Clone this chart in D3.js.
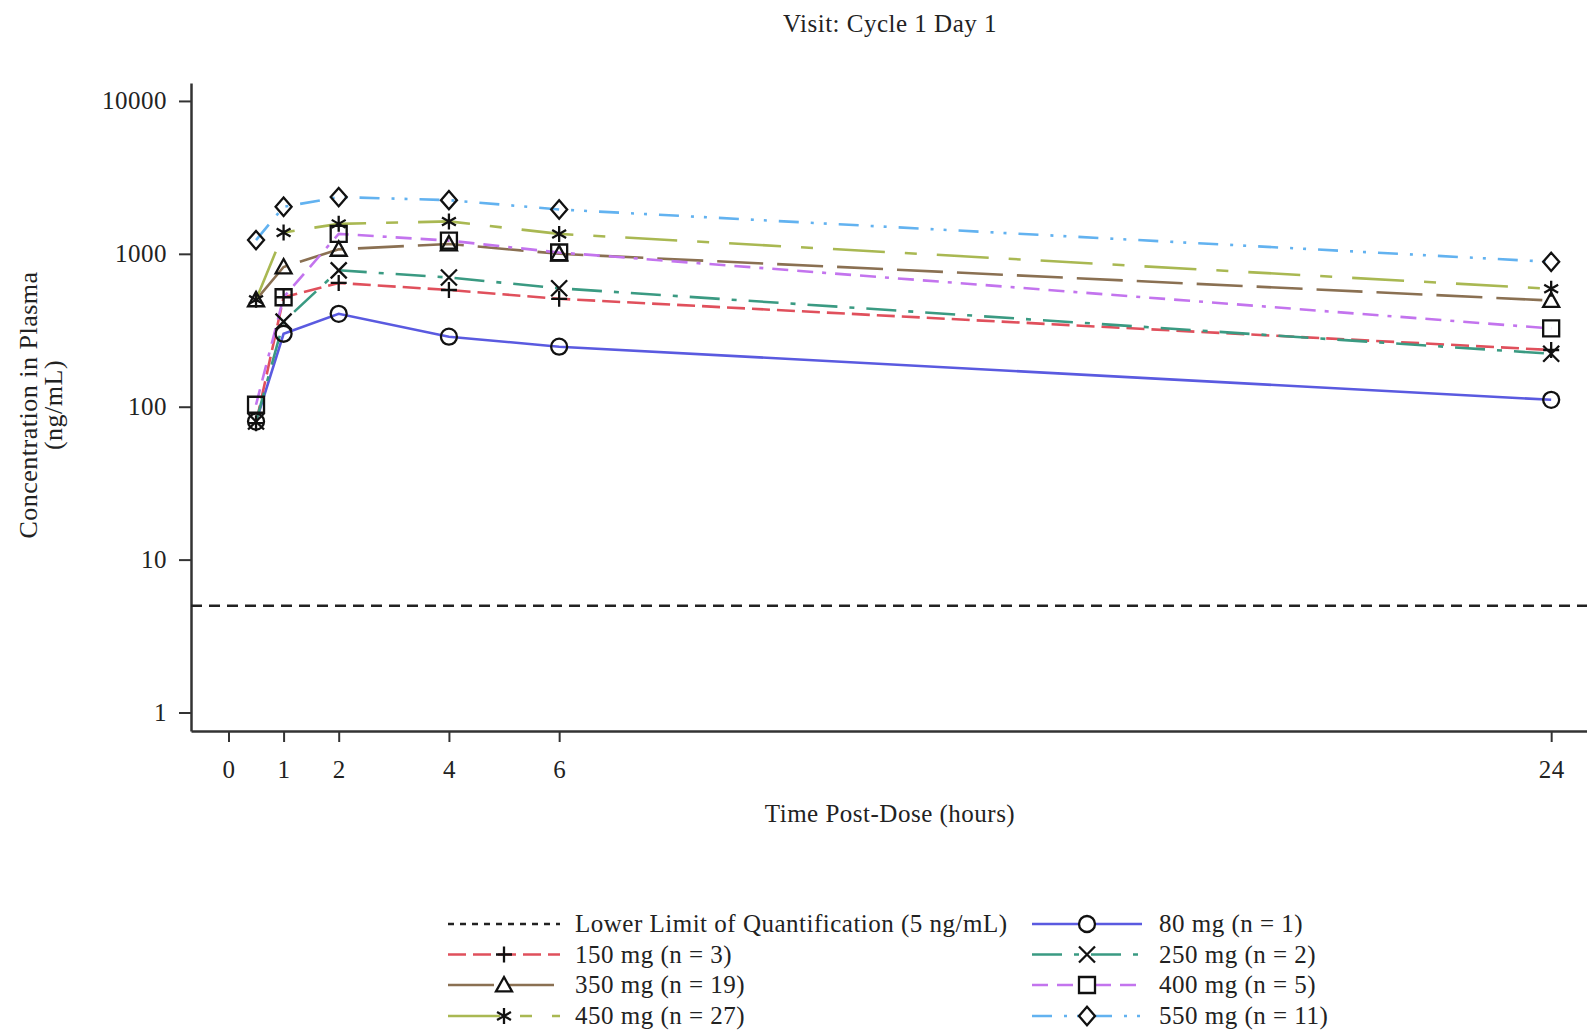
<!DOCTYPE html>
<html>
<head>
<meta charset="utf-8">
<script src="https://cdn.jsdelivr.net/npm/d3@7"></script>
<style>
  body { margin: 0; background: #fff; }
  text { font-family: "Liberation Serif", "Times New Roman", serif; fill: #222; letter-spacing: 0.5px; }
</style>
</head>
<body>
<script>
const width = 1587;
const height = 1032;

// values (ng/mL)
const times = [0.5, 1, 2, 4, 6, 24];
const xTicks = [0, 1, 2, 4, 6, 24];
const yTicks = [1, 10, 100, 1000, 10000];
const lloq = 5;
const lloqLabel = "Lower Limit of Quantification (5 ng/mL)";

const doseLabels = ["80 mg (n = 1)", "150 mg (n = 3)", "250 mg (n = 2)", "350 mg (n = 19)",
  "400 mg (n = 5)", "450 mg (n = 27)", "550 mg (n = 11)"];
const conc80 = [80, 300, 405, 287, 247, 111];
const conc150 = [78, 520, 645, 580, 508, 235];
const conc250 = [80, 360, 780, 700, 595, 222];
const conc350 = [500, 820, 1070, 1160, 1000, 495];
const conc400 = [103, 520, 1350, 1220, 1020, 325];
const conc450 = [500, 1380, 1570, 1630, 1350, 590];
const conc550 = [1230, 2030, 2350, 2245, 1950, 886];

const series = [
  { label: doseLabels[0], values: conc80, color: "#5a5ae0", dash: null, shape: "circle" },
  { label: doseLabels[1], values: conc150, color: "#e0505c", dash: "18,7", shape: "plus" },
  { label: doseLabels[2], values: conc250, color: "#3a9a82", dash: "30,12,5,12", shape: "x" },
  { label: doseLabels[3], values: conc350, color: "#8a7052", dash: "46,14", shape: "triangle" },
  { label: doseLabels[4], values: conc400, color: "#c374ee", dash: "16,9,16,9,4,9", shape: "square" },
  { label: doseLabels[5], values: conc450, color: "#a9b852", dash: "52,20,12,20", shape: "star" },
  { label: doseLabels[6], values: conc550, color: "#62b2f0", dash: "20,12,3,10,3,12", shape: "diamond" }
];

function shapePath(shape, s) {
  switch (shape) {
    case "circle":
      return `M${s},0A${s},${s} 0 1,1 ${-s},0A${s},${s} 0 1,1 ${s},0Z`;
    case "plus":
      return `M${-s},0H${s}M0,${-s}V${s}`;
    case "x":
      return `M${-s},${-s}L${s},${s}M${-s},${s}L${s},${-s}`;
    case "triangle":
      return `M0,${-s}L${s},${s * 0.8}L${-s},${s * 0.8}Z`;
    case "square":
      return `M${-s},${-s}H${s}V${s}H${-s}Z`;
    case "star": {
      let a = s * 0.87, b = s * 0.5;
      return `M0,${-s}V${s}M${-a},${-b}L${a},${b}M${-a},${b}L${a},${-b}`;
    }
    case "diamond":
      return `M0,${-s * 1.15}L${s},0L0,${s * 1.15}L${-s},0Z`;
  }
}

let svg = d3
  .select("body")
  .append("svg")
  .attr("width", width)
  .attr("height", height);

let xScale = d3.scaleLinear().domain([-0.68, 24.65]).range([191, 1587]);
let yScale = d3.scaleLog().domain([0.757, 13100]).range([731, 83]);

// axes
let xAxis = d3.axisBottom(xScale).tickValues(xTicks).tickSize(11).tickSizeOuter(0).tickPadding(18)
  .tickFormat(d3.format("d"));
let yAxis = d3.axisLeft(yScale).tickValues(yTicks).tickSize(12).tickSizeOuter(0).tickPadding(12)
  .tickFormat(d3.format("d"));

let gx = svg.append("g").attr("transform", "translate(0,731)").call(xAxis);
let gy = svg.append("g").attr("transform", "translate(191,0)").call(yAxis);

[gx, gy].forEach((g) => {
  g.select(".domain").attr("stroke", "#333").attr("stroke-width", 2.5);
  g.selectAll(".tick line").attr("stroke", "#333").attr("stroke-width", 2);
  g.selectAll(".tick text").attr("font-size", 25).attr("fill", "#222")
    .attr("font-family", '"Liberation Serif", serif');
});

// LLOQ reference line
svg.append("line")
  .attr("x1", xScale.range()[0]).attr("x2", xScale.range()[1])
  .attr("y1", yScale(lloq)).attr("y2", yScale(lloq))
  .attr("stroke", "#222").attr("stroke-width", 2.5).attr("stroke-dasharray", "11,7");

// series lines
let line = d3.line()
  .x((d, i) => xScale(times[i]))
  .y((d) => yScale(d));

svg.append("g")
  .selectAll("path")
  .data(series)
  .join("path")
  .attr("d", (d) => line(d.values))
  .attr("fill", "none")
  .attr("stroke", (d) => d.color)
  .attr("stroke-width", 2.6)
  .attr("stroke-dasharray", (d) => d.dash);

// markers
series.forEach((s) => {
  svg.append("g")
    .selectAll("path")
    .data(s.values)
    .join("path")
    .attr("transform", (d, i) => `translate(${xScale(times[i])},${yScale(d)})`)
    .attr("d", shapePath(s.shape, 8))
    .attr("fill", "none")
    .attr("stroke", "#111")
    .attr("stroke-width", 2.3);
});

// titles
svg.append("text")
  .attr("x", 890).attr("y", 32)
  .attr("text-anchor", "middle").attr("font-size", 25)
  .text("Visit: Cycle 1 Day 1");

svg.append("text")
  .attr("x", 890).attr("y", 822)
  .attr("text-anchor", "middle").attr("font-size", 25)
  .text("Time Post-Dose (hours)");

let yLab = svg.append("text")
  .attr("transform", "translate(37,405) rotate(-90)")
  .attr("text-anchor", "middle").attr("font-size", 26);
yLab.append("tspan").attr("x", 0).attr("y", 0).text("Concentration in Plasma");
yLab.append("tspan").attr("x", 0).attr("y", 25).text("(ng/mL)");

// legend
let legendItems = [{ label: lloqLabel, color: "#222", dash: "6,6", shape: null }].concat(series);
let legendCols = [{ x1: 448, x2: 560, tx: 575 }, { x1: 1032, x2: 1142, tx: 1159 }];
let rowY = [924, 954.5, 985, 1016];

let legend = svg.append("g")
  .selectAll("g")
  .data(legendItems)
  .join("g")
  .attr("transform", (d, i) => `translate(0,${rowY[Math.floor(i / 2)]})`);

legend.append("line")
  .attr("x1", (d, i) => legendCols[i % 2].x1)
  .attr("x2", (d, i) => legendCols[i % 2].x2)
  .attr("stroke", (d) => d.color)
  .attr("stroke-width", 2.6)
  .attr("stroke-dasharray", (d) => d.dash);

legend.filter((d) => d.shape)
  .append("path")
  .attr("transform", (d) => {
    let i = legendItems.indexOf(d);
    let c = legendCols[i % 2];
    return `translate(${(c.x1 + c.x2) / 2},0)`;
  })
  .attr("d", (d) => shapePath(d.shape, 8))
  .attr("fill", "#fff")
  .attr("stroke", "#111")
  .attr("stroke-width", 2.3);

legend.append("text")
  .attr("x", (d, i) => legendCols[i % 2].tx)
  .attr("y", 8)
  .attr("font-size", 25)
  .text((d) => d.label);
</script>
</body>
</html>
